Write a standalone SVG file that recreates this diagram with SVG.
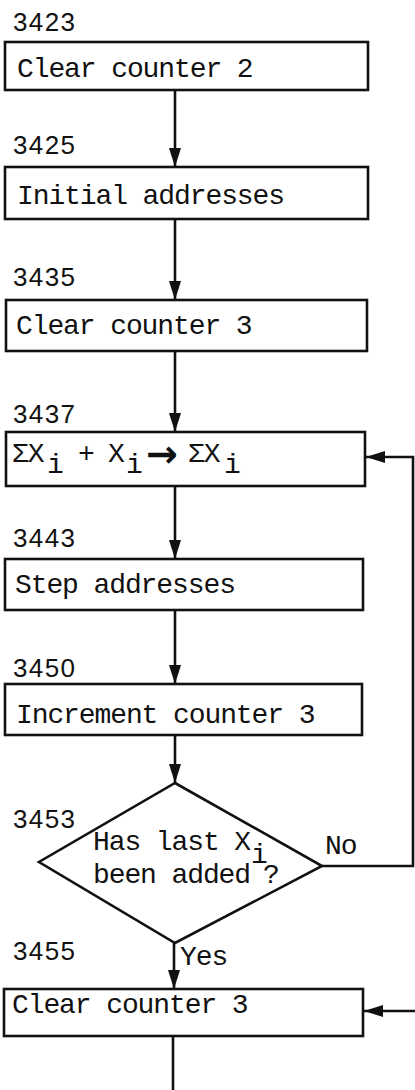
<svg xmlns="http://www.w3.org/2000/svg" width="415" height="1090" viewBox="0 0 415 1090">
<style>
.bg{fill:#fff}
.box{fill:#fff;stroke:#111;stroke-width:2.6}
.t{font-family:"Liberation Mono","Courier New",monospace;font-size:28px;letter-spacing:-1.1px;fill:#111}
.n{font-family:"Liberation Sans",Arial,sans-serif;font-size:26px;fill:#111}
.c{fill:none;stroke:#111;stroke-width:2.6}
.ar{font-family:"DejaVu Sans",sans-serif;font-weight:bold;font-size:38px;letter-spacing:0}
</style>
<defs>
<marker id="ah" markerUnits="userSpaceOnUse" markerWidth="19" markerHeight="12" refX="19" refY="6" orient="auto">
<path d="M0,0 L19,6 L0,12 z" fill="#111"/>
</marker>
</defs>
<rect class="bg" x="0" y="0" width="415" height="1090"/>
<g id="connectors">
<line class="c" x1="175" y1="90" x2="175" y2="167" marker-end="url(#ah)"/>
<line class="c" x1="175" y1="219" x2="175" y2="300" marker-end="url(#ah)"/>
<line class="c" x1="175" y1="351" x2="175" y2="432" marker-end="url(#ah)"/>
<line class="c" x1="175" y1="486" x2="175" y2="559" marker-end="url(#ah)"/>
<line class="c" x1="175" y1="610" x2="175" y2="684" marker-end="url(#ah)"/>
<line class="c" x1="175" y1="735" x2="175" y2="783" marker-end="url(#ah)"/>
<line class="c" x1="174" y1="943" x2="174" y2="989" marker-end="url(#ah)"/>
<polyline class="c" points="322,866 413,866 413,457 366,457" marker-end="url(#ah)"/>
<line class="c" x1="416" y1="1011" x2="364" y2="1011" marker-end="url(#ah)"/>
<line class="c" x1="173" y1="1036" x2="173" y2="1090"/>
<text class="t" x="325" y="854">No</text>
<text class="t" x="180" y="965">Yes</text>
</g>
<g id="n3423">
<text class="n" x="13" y="31" textLength="62">3423</text>
<rect class="box" x="5" y="42" width="363" height="48"/>
<text class="t" x="17" y="77">Clear counter 2</text>
</g>
<g id="n3425">
<text class="n" x="13" y="154" textLength="62">3425</text>
<rect class="box" x="5" y="167" width="363" height="52"/>
<text class="t" x="17" y="204">Initial addresses</text>
</g>
<g id="n3435">
<text class="n" x="13" y="286" textLength="62">3435</text>
<rect class="box" x="6" y="300" width="361" height="51"/>
<text class="t" x="16" y="334">Clear counter 3</text>
</g>
<g id="n3437">
<text class="n" x="13" y="423" textLength="62">3437</text>
<rect class="box" x="6" y="432" width="359" height="54"/>
<text class="t" y="462"><tspan x="12">ΣX</tspan><tspan x="47" y="473">i</tspan><tspan x="78" y="462">+</tspan><tspan x="108">X</tspan><tspan x="126" y="473">i</tspan><tspan class="ar" x="146" y="467">→</tspan><tspan x="188" y="462">ΣX</tspan><tspan x="224" y="473">i</tspan></text>
</g>
<g id="n3443">
<text class="n" x="13" y="547" textLength="62">3443</text>
<rect class="box" x="5" y="559" width="358" height="51"/>
<text class="t" x="15" y="593">Step addresses</text>
</g>
<g id="n3450">
<text class="n" x="13" y="677" textLength="62">3450</text>
<rect class="box" x="5" y="684" width="357" height="51"/>
<text class="t" x="16" y="723">Increment counter 3</text>
</g>
<g id="n3453">
<text class="n" x="13" y="828" textLength="62">3453</text>
<polygon class="box" points="175,783 322,866 175,943 39,862"/>
<text class="t" x="93" y="850">Has last X</text>
<text class="t" x="251" y="863">i</text>
<text class="t" x="93" y="883">been added</text>
<text class="t" x="263" y="883">?</text>
</g>
<g id="n3455">
<text class="n" x="13" y="960" textLength="62">3455</text>
<rect class="box" x="4" y="989" width="359" height="47"/>
<text class="t" x="12" y="1013">Clear counter 3</text>
</g>
</svg>
